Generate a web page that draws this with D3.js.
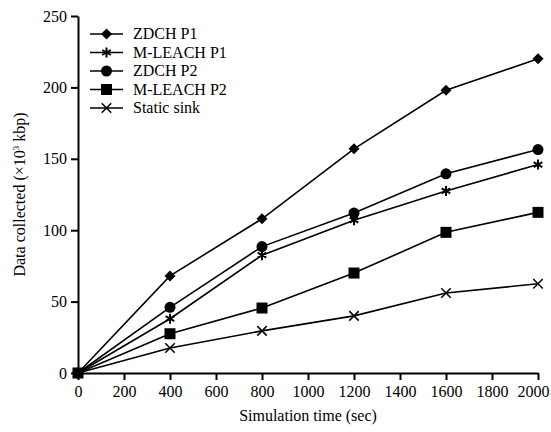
<!DOCTYPE html>
<html>
<head>
  <style>
  body { margin: 0; background: #fff; }
  #chart svg { font-family: "Liberation Serif", "Times New Roman", serif; }
  </style>
</head>
<body>
  <script src="https://d3js.org/d3.v7.min.js"></script>
  <div id="chart"></div>
  <script>
    // simulation times (sec)
    const times = [0, 400, 800, 1200, 1600, 2000];
    const seriesNames = ['ZDCH P1', 'M-LEACH P1', 'ZDCH P2', 'M-LEACH P2', 'Static sink'];
    const zdchP1 = [0, 68, 108, 157, 198, 220];
    const mleachP1 = [0, 38, 82.5, 107, 127.5, 146];
    const zdchP2 = [0, 46, 88.5, 112, 139.5, 156.5];
    const mleachP2 = [0, 27.5, 45.5, 70, 98.5, 112.5];
    const staticSink = [0, 17.5, 29.5, 40, 56, 62.5];
    const xTicks = d3.range(0, 2001, 200);
    const yTicks = [0, 50, 100, 150, 200, 250];

    const width = 551, height = 432;
    const margin = {top: 16, left: 78, right: 13, bottom: 59};

    const svg = d3.select('#chart').append('svg')
      .attr('width', width)
      .attr('height', height);

    const x = d3.scaleLinear().domain([0, 2000]).range([margin.left, width - margin.right]);
    const y = d3.scaleLinear().domain([0, 250]).range([height - margin.bottom, margin.top]);

    // axes
    const xAxis = svg.append('g')
      .attr('transform', `translate(0,${y(0)})`)
      .call(d3.axisBottom(x).tickValues(xTicks).tickFormat(d3.format('d'))
        .tickSize(7).tickPadding(6).tickSizeOuter(0));
    const yAxis = svg.append('g')
      .attr('transform', `translate(${x(0)},0)`)
      .call(d3.axisLeft(y).tickValues(yTicks).tickFormat(d3.format('d'))
        .tickSize(7).tickPadding(4).tickSizeOuter(0));
    [xAxis, yAxis].forEach(a => {
      a.select('.domain').attr('stroke', '#000').attr('stroke-width', 2);
      a.selectAll('.tick line').attr('stroke', '#000').attr('stroke-width', 2);
      a.selectAll('.tick text')
        .attr('fill', '#000')
        .style('font-family', '"Liberation Serif", serif')
        .style('font-size', '16px');
    });
    // last x label is nudged in so it fits
    xAxis.selectAll('.tick text').filter(d => d === 2000).attr('dx', -5);

    svg.append('text')
      .attr('x', x(1000))
      .attr('y', 421)
      .attr('text-anchor', 'middle')
      .style('font-size', '16px')
      .text('Simulation time (sec)');

    const yl = svg.append('text')
      .attr('transform', `translate(25,${y(125)}) rotate(-90)`)
      .attr('text-anchor', 'middle')
      .style('font-size', '16px');
    yl.append('tspan').text('Data collected (×10');
    yl.append('tspan').attr('dy', -6).style('font-size', '9px').text('3');
    yl.append('tspan').attr('dy', 6).text(' kbp)');

    // markers
    function drawMarker(g, type) {
      if (type === 'diamond') {
        g.append('path').attr('d', 'M0,-5.5L5.5,0L0,5.5L-5.5,0Z').attr('fill', '#000');
      } else if (type === 'star') {
        g.append('path').attr('d', d3.symbol(d3.symbolAsterisk, 70)())
          .attr('fill', 'none').attr('stroke', '#000').attr('stroke-width', 2);
      } else if (type === 'circle') {
        g.append('circle').attr('r', 5.5).attr('fill', '#000');
      } else if (type === 'square') {
        g.append('rect').attr('x', -5.5).attr('y', -5.5).attr('width', 11).attr('height', 11).attr('fill', '#000');
      } else if (type === 'cross') {
        g.append('path').attr('d', d3.symbol(d3.symbolTimes, 60)())
          .attr('fill', 'none').attr('stroke', '#000').attr('stroke-width', 1.5);
      }
    }

    const series = [
      {name: seriesNames[0], values: zdchP1, marker: 'diamond'},
      {name: seriesNames[1], values: mleachP1, marker: 'star'},
      {name: seriesNames[2], values: zdchP2, marker: 'circle'},
      {name: seriesNames[3], values: mleachP2, marker: 'square'},
      {name: seriesNames[4], values: staticSink, marker: 'cross'}
    ];

    const line = d3.line().x((d, i) => x(times[i])).y(d => y(d));

    series.forEach(s => {
      svg.append('path')
        .attr('d', line(s.values))
        .attr('fill', 'none')
        .attr('stroke', '#000')
        .attr('stroke-width', 1.6);
      s.values.forEach((v, i) => {
        const g = svg.append('g').attr('transform', `translate(${x(times[i])},${y(v)})`);
        drawMarker(g, s.marker);
      });
    });

    // legend
    const legend = svg.append('g').attr('transform', 'translate(90,34)');
    series.forEach((s, i) => {
      const row = legend.append('g').attr('transform', `translate(0,${i * 18.5})`);
      row.append('line').attr('x1', 0).attr('x2', 33).attr('stroke', '#000').attr('stroke-width', 1.6);
      const m = row.append('g').attr('transform', 'translate(16.5,0)');
      drawMarker(m, s.marker);
      row.append('text')
        .attr('x', 43)
        .attr('y', 5)
        .style('font-size', '16px')
        .text(s.name);
    });
  </script>
</body>
</html>
